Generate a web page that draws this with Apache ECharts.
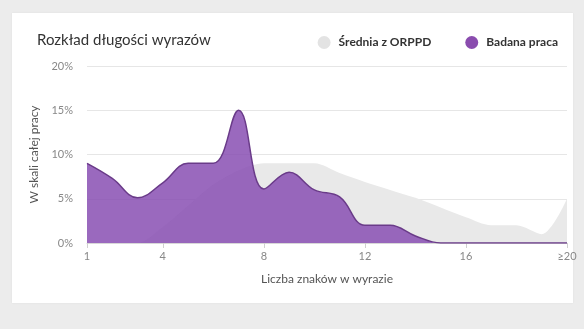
<!DOCTYPE html>
<html>
<head>
<meta charset="utf-8">
<script src="https://cdn.jsdelivr.net/npm/echarts@6/dist/echarts.min.js"></script>
<style>
  html, body { margin:0; padding:0; background:#ececec; }
  #card { position:absolute; left:12px; top:13px; width:561px; height:290px; background:#fff; box-shadow:0 0 2px rgba(0,0,0,0.06); }
  #chart { position:absolute; left:0; top:0; width:584px; height:329px; }
</style>
</head>
<body>
<div id="card"></div>
<div id="chart"></div>
<script>
const categories = ['1','2','3','4','5','6','7','8','9','10','11','12','13','14','15','16','17','18','19','≥20'];
const orppdValues = [0, 0, 0, 1.8, 4.2, 6.6, 8.2, 9.0, 9.0, 9.0, 7.9, 6.9, 6.0, 5.1, 4.0, 2.9, 2.0, 2.0, 1.0, 5.0];
const workValues  = [9.0, 7.3, 5.1, 6.8, 9.0, 9.0, 15.0, 6.1, 8.0, 6.0, 5.2, 2.0, 2.0, 0.8, 0, 0, 0, 0, 0, 0];
const shownTickIndices = [0, 3, 7, 11, 15, 19];
const yTicks = [0, 5, 10, 15, 20];

const chart = echarts.init(document.getElementById('chart'));
const font = 'Lato';
chart.setOption({
  animation: false,
  title: {
    text: 'Rozkład długości wyrazów',
    left: 32, top: 28,
    textStyle: { fontFamily: font, fontSize: 15, fontWeight: 'normal', color: '#333' }
  },
  legend: {
    right: 21, top: 31,
    icon: 'circle', itemWidth: 13, itemHeight: 13, itemGap: 34, itemStyle: { borderWidth: 0 },
    textStyle: { fontFamily: font, fontSize: 12, fontWeight: 'bold', color: '#333', padding: [0, 0, 0, 3] },
    data: [
      { name: 'Średnia z ORPPD', itemStyle: { color: '#e3e3e3' } },
      { name: 'Badana praca', itemStyle: { color: '#8a4cae' } }
    ]
  },
  grid: { left: 87, right: 17, top: 66, bottom: 86 },
  xAxis: {
    type: 'category', data: categories, boundaryGap: false,
    name: 'Liczba znaków w wyrazie', nameLocation: 'middle', nameGap: 30,
    nameTextStyle: { fontFamily: font, fontSize: 12, color: '#555' },
    axisLine: { lineStyle: { color: '#d8d8d8' } },
    axisTick: { show: true, length: 5, lineStyle: { color: '#d0d0d0' }, interval: (i) => shownTickIndices.includes(i) },
    axisLabel: { fontFamily: font, fontSize: 11, color: '#888', margin: 8, interval: (i) => shownTickIndices.includes(i) },
    splitLine: { show: false }
  },
  yAxis: {
    type: 'value', min: yTicks[0], max: yTicks[yTicks.length-1], interval: 5,
    name: 'W skali całej pracy', nameLocation: 'middle', nameGap: 44, nameRotate: 90,
    nameTextStyle: { fontFamily: font, fontSize: 12, color: '#555' },
    axisLine: { show: false }, axisTick: { show: false },
    axisLabel: { fontFamily: font, fontSize: 11, color: '#888', margin: 14, formatter: '{value}%' },
    splitLine: { lineStyle: { color: '#e6e6e6' } }
  },
  series: [
    {
      name: 'Średnia z ORPPD', type: 'line', data: orppdValues, smooth: 0.3,
      symbol: 'none',
      lineStyle: { width: 0, color: '#e9e9e9' },
      itemStyle: { color: '#e3e3e3' },
      areaStyle: { color: '#e9e9e9', opacity: 1 }
    },
    {
      name: 'Badana praca', type: 'line', data: workValues, smooth: 0.4,
      symbol: 'none',
      lineStyle: { color: '#6a3b89', width: 1.5 },
      itemStyle: { color: '#8a4cae' },
      areaStyle: { color: 'rgba(135, 76, 178, 0.84)', opacity: 1 }
    }
  ]
});
</script>
</body>
</html>
